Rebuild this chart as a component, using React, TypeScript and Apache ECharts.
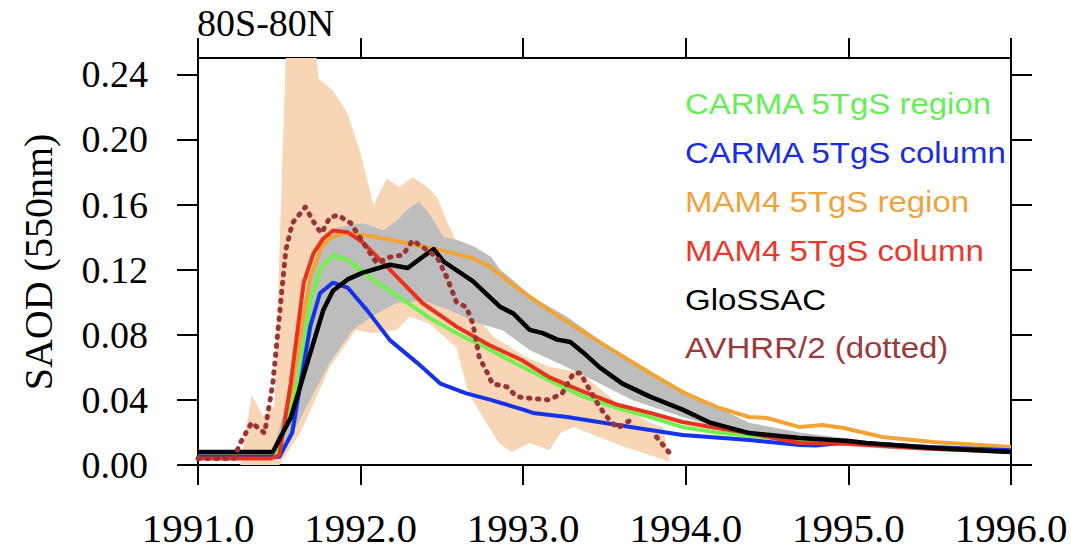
import React, { useEffect, useRef } from "react";
import * as echarts from "echarts";

// ---- axis ticks ----
const xTicks = [1991, 1992, 1993, 1994, 1995, 1996];
const yTicks = [0, 0.04, 0.08, 0.12, 0.16, 0.2, 0.24];

// ---- legend entries ----
const legendNames = [
  "CARMA 5TgS region",
  "CARMA 5TgS column",
  "MAM4 5TgS region",
  "MAM4 5TgS column",
  "GloSSAC",
  "AVHRR/2 (dotted)",
];
const legendColors = ["#66ee55", "#1a2ee0", "#eea43e", "#e8392c", "#000000", "#9b3a3a"];

// ---- GloSSAC (black) ----
const glossacYears = [1991.0, 1991.46, 1991.57, 1991.67, 1991.77, 1991.83, 1991.92, 1992.01, 1992.18, 1992.29, 1992.37, 1992.45, 1992.51, 1992.69, 1992.86, 1992.94, 1993.04, 1993.12, 1993.21, 1993.29, 1993.37, 1993.47, 1993.61, 1993.78, 1993.98, 1994.15, 1994.39, 1994.7, 1995.0, 1995.11, 1995.52, 1996.0];
const glossacVals = [0.008, 0.008, 0.029, 0.062, 0.095, 0.107, 0.114, 0.118, 0.123, 0.121, 0.127, 0.1326, 0.125, 0.113, 0.097, 0.093, 0.083, 0.081, 0.077, 0.0755, 0.069, 0.06, 0.05, 0.042, 0.034, 0.026, 0.0196, 0.0166, 0.0147, 0.0135, 0.0104, 0.008];

// ---- GloSSAC uncertainty (grey band) ----
const greyUpperYears = [1991.0, 1991.46, 1991.55, 1991.65, 1991.73, 1991.82, 1991.86, 1992.02, 1992.14, 1992.22, 1992.3, 1992.36, 1992.42, 1992.51, 1992.6, 1992.7, 1992.8, 1992.86, 1993.06, 1993.27, 1993.47, 1993.67, 1993.98, 1994.39, 1994.7, 1995.3, 1996.0];
const greyUpperVals = [0.009, 0.009, 0.04, 0.1, 0.13, 0.14, 0.146, 0.1485, 0.144, 0.15, 0.158, 0.1615, 0.1547, 0.14, 0.138, 0.134, 0.128, 0.12, 0.103, 0.091, 0.077, 0.0626, 0.046, 0.026, 0.02, 0.0125, 0.009];
const greyLowerYears = [1991.0, 1991.47, 1991.6, 1991.81, 1991.95, 1992.1, 1992.22, 1992.3, 1992.38, 1992.55, 1992.72, 1992.87, 1993.04, 1993.27, 1993.47, 1993.67, 1993.98, 1994.39, 1994.7, 1995.3, 1996.0];
const greyLowerVals = [0.006, 0.006, 0.023, 0.063, 0.083, 0.093, 0.0995, 0.1, 0.101, 0.095, 0.087, 0.083, 0.0706, 0.06, 0.05, 0.04, 0.0295, 0.017, 0.0135, 0.0095, 0.007];

// ---- MAM4 spread (peach band) ----
const peachUpperYears = [1991.26, 1991.33, 1991.4, 1991.47, 1991.54, 1991.73, 1991.74, 1991.83, 1991.92, 1992.0, 1992.08, 1992.16, 1992.24, 1992.32, 1992.41, 1992.47, 1992.53, 1992.62, 1992.72, 1992.82, 1993.02, 1993.17, 1993.29, 1993.37, 1993.58, 1993.78, 1993.86, 1993.9];
const peachUpperVals = [0.0, 0.043, 0.03, 0.036, 0.25, 0.25, 0.2375, 0.23, 0.216, 0.1915, 0.1596, 0.176, 0.1707, 0.1768, 0.1707, 0.1645, 0.15, 0.13, 0.09, 0.0786, 0.066, 0.06, 0.058, 0.055, 0.038, 0.026, 0.0233, 0.002];
const peachLowerYears = [1991.26, 1991.5, 1991.63, 1991.81, 1991.97, 1992.07, 1992.22, 1992.3, 1992.42, 1992.59, 1992.66, 1992.7, 1992.85, 1992.93, 1993.04, 1993.16, 1993.23, 1993.31, 1993.6, 1993.9];
const peachLowerVals = [0.0, 0.0, 0.02, 0.06, 0.083, 0.081, 0.083, 0.091, 0.087, 0.072, 0.045, 0.038, 0.0135, 0.008, 0.0135, 0.009, 0.0196, 0.0233, 0.012, 0.002];

// ---- CARMA 5TgS region (green) ----
const carmaRegYears = [1991.0, 1991.47, 1991.56, 1991.62, 1991.69, 1991.75, 1991.83, 1991.92, 1992.08, 1992.29, 1992.43, 1992.59, 1992.8, 1992.95, 1993.16, 1993.37, 1993.58, 1993.78, 1993.98, 1994.19, 1994.39, 1994.7, 1995.0, 1995.5, 1996.0];
const carmaRegVals = [0.005, 0.005, 0.03, 0.054, 0.0995, 0.12, 0.129, 0.126, 0.1136, 0.0995, 0.09, 0.081, 0.0706, 0.0626, 0.052, 0.042, 0.035, 0.0295, 0.0233, 0.02, 0.018, 0.0155, 0.014, 0.011, 0.009];

// ---- CARMA 5TgS column (blue) ----
const carmaColYears = [1991.0, 1991.5, 1991.58, 1991.63, 1991.69, 1991.75, 1991.83, 1991.92, 1992.04, 1992.18, 1992.35, 1992.49, 1992.65, 1992.8, 1993.0, 1993.06, 1993.27, 1993.58, 1993.78, 1993.98, 1994.39, 1994.7, 1994.8, 1995.0, 1995.5, 1996.0];
const carmaColVals = [0.005, 0.005, 0.02, 0.05, 0.085, 0.1055, 0.112, 0.109, 0.095, 0.0767, 0.0626, 0.05, 0.044, 0.04, 0.034, 0.032, 0.0295, 0.0246, 0.0215, 0.0184, 0.0153, 0.0123, 0.012, 0.014, 0.011, 0.009];

// ---- MAM4 5TgS region (orange) ----
const mamRegYears = [1991.0, 1991.48, 1991.55, 1991.63, 1991.69, 1991.76, 1991.82, 1991.9, 1992.04, 1992.25, 1992.49, 1992.69, 1992.8, 1992.96, 1993.16, 1993.37, 1993.58, 1993.78, 1993.98, 1994.19, 1994.39, 1994.5, 1994.7, 1994.84, 1994.97, 1995.21, 1995.52, 1996.0];
const mamRegVals = [0.006, 0.006, 0.03, 0.08, 0.115, 0.134, 0.14, 0.1424, 0.141, 0.137, 0.132, 0.127, 0.1215, 0.109, 0.095, 0.0816, 0.0687, 0.0565, 0.0448, 0.0356, 0.0295, 0.0289, 0.0233, 0.0246, 0.0227, 0.0172, 0.0141, 0.011];

// ---- MAM4 5TgS column (red) ----
const mamColYears = [1991.0, 1991.45, 1991.5, 1991.57, 1991.65, 1991.71, 1991.77, 1991.83, 1991.92, 1992.01, 1992.18, 1992.38, 1992.59, 1992.79, 1992.99, 1993.16, 1993.37, 1993.58, 1993.78, 1993.98, 1994.19, 1994.39, 1994.7, 1995.0, 1995.5, 1996.0];
const mamColVals = [0.004, 0.004, 0.006, 0.05, 0.112, 0.13, 0.139, 0.144, 0.143, 0.137, 0.12, 0.0995, 0.085, 0.0737, 0.0645, 0.054, 0.045, 0.037, 0.032, 0.0264, 0.0227, 0.0196, 0.0135, 0.013, 0.01, 0.008];

// ---- AVHRR/2 (brown dotted) ----
const avhrrYears = [1991.0, 1991.22, 1991.26, 1991.33, 1991.41, 1991.46, 1991.5, 1991.54, 1991.58, 1991.66, 1991.73, 1991.76, 1991.81, 1991.86, 1991.94, 1992.02, 1992.1, 1992.18, 1992.26, 1992.32, 1992.38, 1992.47, 1992.53, 1992.59, 1992.65, 1992.69, 1992.73, 1992.78, 1992.81, 1992.9, 1992.96, 1993.04, 1993.16, 1993.24, 1993.31, 1993.35, 1993.41, 1993.47, 1993.53, 1993.58, 1993.66, 1993.74, 1993.82, 1993.9];
const avhrrVals = [0.004, 0.004, 0.0135, 0.026, 0.0196, 0.05, 0.091, 0.132, 0.1485, 0.1584, 0.146, 0.1424, 0.152, 0.1535, 0.1485, 0.136, 0.124, 0.1277, 0.129, 0.138, 0.134, 0.1277, 0.1154, 0.1, 0.097, 0.087, 0.066, 0.0565, 0.05, 0.048, 0.042, 0.041, 0.04, 0.044, 0.0565, 0.0565, 0.046, 0.0356, 0.0276, 0.0227, 0.0276, null, 0.0172, 0.0074];

function pairs(xs: number[], ys: (number | null)[]) {
  return xs.map((x, i) => [x, ys[i]]);
}

export default function App() {
  const ref = useRef<HTMLDivElement>(null);
  useEffect(() => {
    document.body.style.margin = "0";
    const chart = echarts.init(ref.current!, null, { renderer: "svg" });

    const band = (uy: number[], uv: number[], ly: number[], lv: number[], color: string, z: number) => ({
      type: "custom",
      coordinateSystem: "cartesian2d",
      xAxisIndex: 0,
      yAxisIndex: 0,
      silent: true,
      z,
      data: [[uy[0], lv[0]]],
      encode: { x: 0, y: 1 },
      renderItem: (params: any, api: any) => {
        const pts: number[][] = [];
        for (let i = 0; i < uy.length; i++) pts.push(api.coord([uy[i], uv[i]]));
        for (let i = ly.length - 1; i >= 0; i--) pts.push(api.coord([ly[i], lv[i]]));
        return { type: "polygon", shape: { points: pts }, style: { fill: color } };
      },
    });

    const line = (xs: number[], ys: (number | null)[], color: string, z: number, width = 4, dotted = false) => ({
      type: "line",
      xAxisIndex: 0,
      yAxisIndex: 0,
      data: pairs(xs, ys),
      showSymbol: false,
      symbol: "none",
      silent: true,
      z,
      connectNulls: false,
      lineStyle: dotted
        ? { color, width: 5, type: [1.5, 7.5], cap: "round", join: "round" }
        : { color, width, cap: "butt", join: "round" },
    });

    const serif = "Liberation Serif";
    const axisCommon = {
      type: "value",
      splitLine: { show: false },
      axisLine: { show: true, onZero: false, lineStyle: { color: "#000", width: 2 } },
    };

    const legendGraphics = legendNames.map((name, i) => ({
      type: "text",
      x: 685,
      y: 104 + i * 48.8,
      scaleX: 1.1,
      style: {
        text: name,
        fill: legendColors[i],
        font: '30px "Liberation Sans", Arial, sans-serif',
        textAlign: "left",
        textVerticalAlign: "middle",
      },
    }));

    chart.setOption({
      animation: false,
      backgroundColor: "#ffffff",
      grid: { left: 198, top: 58, right: 60, bottom: 85, containLabel: false },
      xAxis: [
        {
          ...axisCommon,
          position: "bottom",
          min: 1991,
          max: 1996,
          axisTick: { show: true, length: 20, customValues: xTicks, lineStyle: { color: "#000", width: 2 } },
          axisLabel: {
            customValues: xTicks,
            formatter: (v: number) => v.toFixed(1),
            fontFamily: serif,
            fontSize: 41,
            color: "#000",
            margin: 42,
          },
        },
        {
          ...axisCommon,
          position: "top",
          min: 1991,
          max: 1996,
          axisTick: { show: true, length: 20, customValues: xTicks, lineStyle: { color: "#000", width: 2 } },
          axisLabel: { show: false },
        },
      ],
      yAxis: [
        {
          ...axisCommon,
          position: "left",
          min: 0,
          max: 0.25,
          axisTick: { show: true, length: 21, customValues: yTicks, lineStyle: { color: "#000", width: 2 } },
          axisLabel: {
            customValues: yTicks,
            formatter: (v: number) => v.toFixed(2),
            fontFamily: serif,
            fontSize: 38,
            color: "#000",
            margin: 50,
          },
        },
        {
          ...axisCommon,
          position: "right",
          min: 0,
          max: 0.25,
          axisTick: { show: true, length: 21, customValues: yTicks, lineStyle: { color: "#000", width: 2 } },
          axisLabel: { show: false },
        },
      ],
      graphic: [
        {
          type: "text",
          x: 197,
          y: 23,
          style: { text: "80S-80N", fill: "#000", font: '38px "Liberation Serif", serif', textAlign: "left", textVerticalAlign: "middle" },
        },
        {
          type: "text",
          x: 38,
          y: 262,
          rotation: Math.PI / 2,
          style: { text: "SAOD (550nm)", fill: "#000", font: '40px "Liberation Serif", serif', textAlign: "center", textVerticalAlign: "middle" },
        },
        ...legendGraphics,
      ],
      series: [
        band(peachUpperYears, peachUpperVals, peachLowerYears, peachLowerVals, "#f8d5b4", 1),
        band(greyUpperYears, greyUpperVals, greyLowerYears, greyLowerVals, "#bdbdbd", 2),
        line(mamRegYears, mamRegVals, "#f0a436", 3),
        line(carmaRegYears, carmaRegVals, "#72f04e", 4),
        line(carmaColYears, carmaColVals, "#1432e6", 5),
        line(mamColYears, mamColVals, "#e8321e", 6),
        line(glossacYears, glossacVals, "#000000", 7, 4.5),
        line(avhrrYears, avhrrVals, "#9b3434", 8, 4.5, true),
      ],
    });
    return () => chart.dispose();
  }, []);
  return <div ref={ref} style={{ width: 1071, height: 550 }} />;
}
